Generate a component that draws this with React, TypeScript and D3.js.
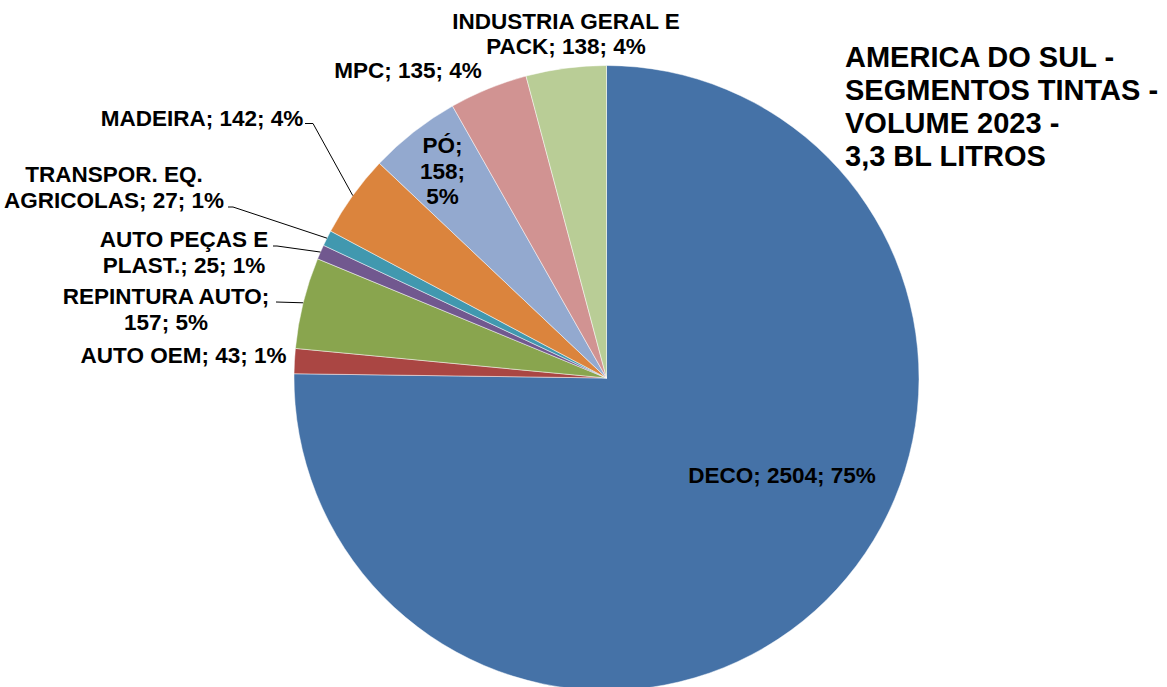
import React from "react";
import * as d3 from "d3";

const segments = [
  "DECO",
  "AUTO OEM",
  "REPINTURA AUTO",
  "AUTO PEÇAS E PLAST.",
  "TRANSPOR. EQ. AGRICOLAS",
  "MADEIRA",
  "PÓ",
  "MPC",
  "INDUSTRIA GERAL E PACK",
];
const volumes = [2504, 43, 157, 25, 27, 142, 158, 135, 138];
const percents = ["75%", "1%", "5%", "1%", "1%", "4%", "5%", "4%", "4%"];
const colors = [
  "#4572A7",
  "#AA4643",
  "#89A54E",
  "#71588F",
  "#4198AF",
  "#DB843D",
  "#93A9CF",
  "#D19392",
  "#B9CD96",
];
const titleLines = [
  "AMERICA DO SUL -",
  "SEGMENTOS TINTAS -",
  "VOLUME 2023 -",
  "3,3 BL LITROS",
];

// Label layout: text lines, center x, first baseline, optional leader start
const labelLayout: {
  lines: string[];
  cx: number;
  y: number;
  lh: number;
  leader?: { x: number; y: number; elbow: number };
}[] = [
  { lines: ["DECO; 2504; 75%"], cx: 782, y: 483, lh: 26 },
  { lines: ["AUTO OEM; 43; 1%"], cx: 183.5, y: 363, lh: 26 },
  { lines: ["REPINTURA AUTO;", "157; 5%"], cx: 166, y: 304, lh: 26, leader: { x: 276, y: 302, elbow: 0 } },
  { lines: ["AUTO PEÇAS E", "PLAST.; 25; 1%"], cx: 184, y: 247, lh: 26, leader: { x: 273, y: 246, elbow: 4 } },
  { lines: ["TRANSPOR. EQ.", "AGRICOLAS; 27; 1%"], cx: 114, y: 182, lh: 26, leader: { x: 228, y: 207, elbow: 5 } },
  { lines: ["MADEIRA; 142; 4%"], cx: 202, y: 126, lh: 26, leader: { x: 305, y: 123.5, elbow: 8 } },
  { lines: ["PÓ;", "158;", "5%"], cx: 442.5, y: 153, lh: 25.5 },
  { lines: ["MPC; 135; 4%"], cx: 408, y: 78, lh: 26 },
  { lines: ["INDUSTRIA GERAL E", "PACK; 138; 4%"], cx: 566, y: 29, lh: 25 },
];

const W = 1167;
const H = 687;
const CX = 606.5;
const CY = 378;
const R = 312.5;
const FONT = "'Liberation Sans', Arial, Helvetica, sans-serif";

export default function App() {
  const data = segments.map((s, i) => ({ name: s, value: volumes[i], color: colors[i], pct: percents[i] }));
  const pie = d3.pie<any>().sort(null).value((d) => d.value).startAngle(0).endAngle(2 * Math.PI);
  const arcs = pie(data);
  const arc = d3.arc<any>().innerRadius(0).outerRadius(R);

  return (
    <svg
      width={W}
      height={H}
      style={{ position: "absolute", left: 0, top: 0, background: "#fff" }}
      fontFamily={FONT}
    >
      <rect width={W} height={H} fill="#fff" />
      <g transform={`translate(${CX},${CY})`}>
        {arcs.map((a, i) => (
          <path key={i} d={arc(a) || ""} fill={a.data.color} stroke="#ffffff" strokeOpacity={0.6} strokeWidth={0.8} />
        ))}
      </g>
      {arcs.map((a, i) => {
        const L = labelLayout[i];
        if (!L.leader) return null;
        const mid = (a.startAngle + a.endAngle) / 2;
        const ex = CX + R * Math.sin(mid);
        const ey = CY - R * Math.cos(mid);
        const p = `M${L.leader.x},${L.leader.y}H${L.leader.x + L.leader.elbow}L${ex},${ey}`;
        return <path key={"l" + i} d={p} fill="none" stroke="#000" strokeWidth={1} />;
      })}
      {labelLayout.map((L, i) => (
        <text key={"t" + i} textAnchor="middle" fontSize={22.5} fontWeight="bold" fill="#000">
          {L.lines.map((ln, j) => (
            <tspan key={j} x={L.cx} y={L.y + j * L.lh}>
              {ln}
            </tspan>
          ))}
        </text>
      ))}
      <text fontSize={29} fontWeight="bold" fill="#000">
        {titleLines.map((t, j) => (
          <tspan key={j} x={845} y={66.5 + j * 33.3}>
            {t}
          </tspan>
        ))}
      </text>
    </svg>
  );
}
